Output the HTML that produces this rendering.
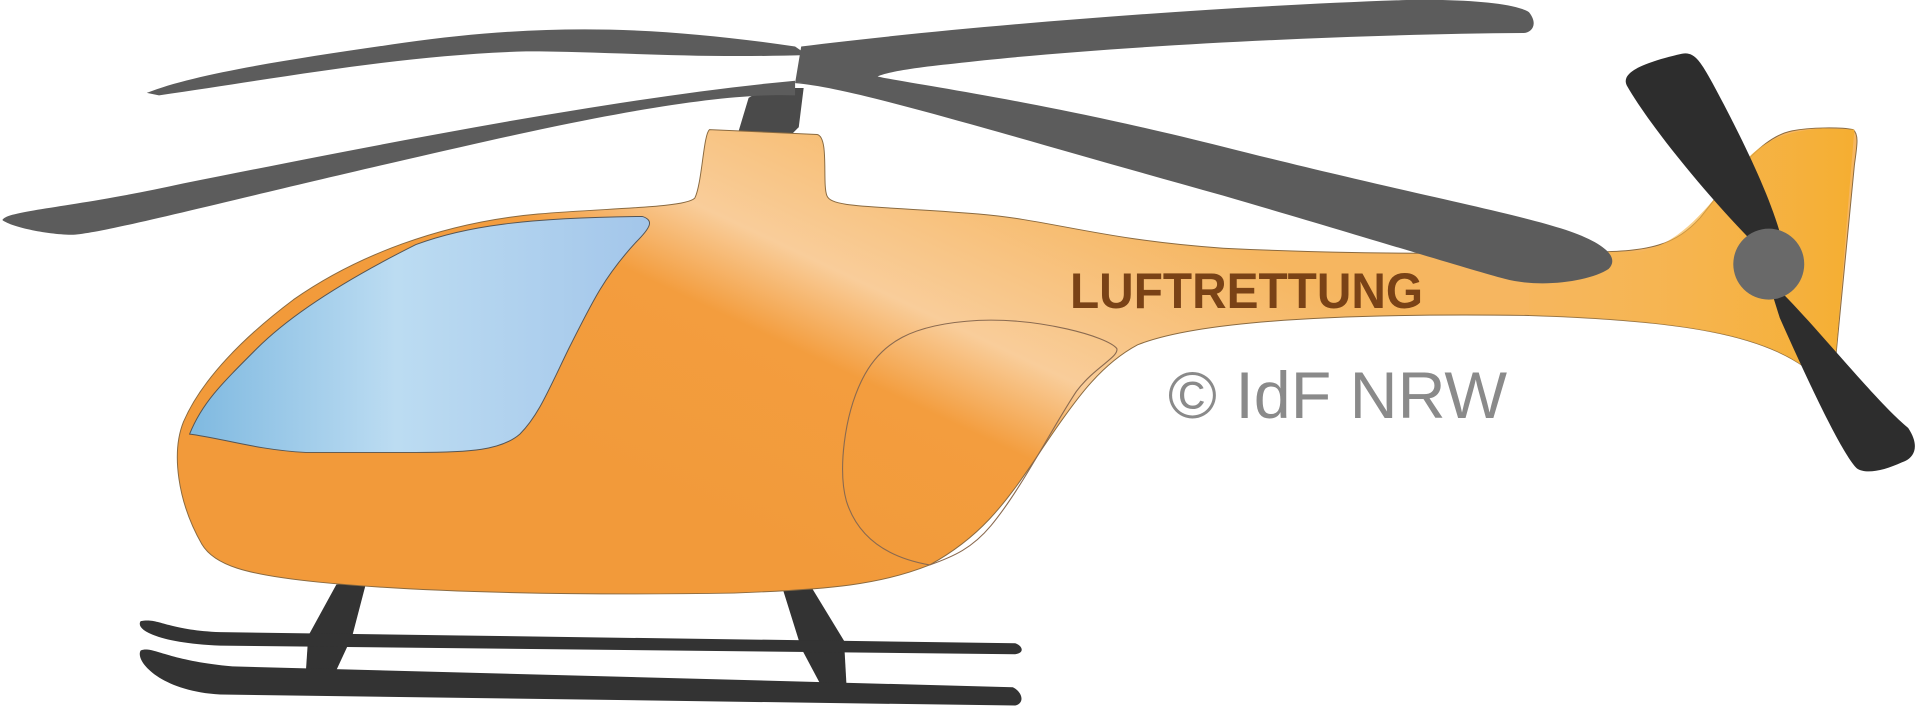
<!DOCTYPE html>
<html><head><meta charset="utf-8"><style>
html,body{margin:0;padding:0;background:#fff;width:1918px;height:708px;overflow:hidden;position:relative}
svg{display:block;position:absolute;left:0;top:0}
</style></head><body>
<svg width="1918" height="708" viewBox="0 0 1568 579" preserveAspectRatio="none" xmlns="http://www.w3.org/2000/svg">
<defs>
<linearGradient id="bg" gradientUnits="userSpaceOnUse" x1="650" y1="470" x2="820" y2="110">
<stop offset="0" stop-color="#f29a3a"/>
<stop offset="0.42" stop-color="#f39d3e"/>
<stop offset="0.6" stop-color="#f9cd9a"/>
<stop offset="1" stop-color="#f6b660"/>
</linearGradient>
<linearGradient id="tg" gradientUnits="userSpaceOnUse" x1="1150" y1="0" x2="1520" y2="0">
<stop offset="0" stop-color="#f6bb62" stop-opacity="0"/>
<stop offset="1" stop-color="#f5ae30"/>
</linearGradient>
<linearGradient id="wg" gradientUnits="userSpaceOnUse" x1="155" y1="0" x2="530" y2="0">
<stop offset="0" stop-color="#7fb9e0"/>
<stop offset="0.45" stop-color="#bcdcf2"/>
<stop offset="1" stop-color="#a3c6ea"/>
</linearGradient>
</defs>
<g fill="#333">
<path d="M252,520 L275,478 L300,474 L288,520 L275,548 L265,552 L250,550 Z"/>
<path d="M640,482 L662,478 L690,524 L692,560 L672,562 L655,530 Z"/>
<path d="M115,508 C130,505 135,515 180,517 L830,526 C836,528 838,534 830,535 L180,528 C130,526 110,515 115,508 Z"/>
<path d="M115,532 C125,528 135,540 190,545 L828,562 C836,566 838,575 830,577 L180,568 C130,565 110,540 115,532 Z"/>
</g>
<path d="M603,110 L612,80 L625,72 L657,72 L653,104 L645,112 Z" fill="#4a4a4a"/>
<path d="M165,445 C145,410 140,370 150,345 C165,310 200,275 240,245 C290,210 360,182 440,175 C500,170 560,170 568,162 C574,150 575,110 580,106 L668,110 C678,112 672,150 676,160 C680,170 710,168 800,175 C860,180 900,196 1000,203 C1100,208 1200,208 1300,206 C1350,206 1370,200 1390,178 C1420,140 1440,112 1465,107 C1480,104 1505,104 1515,106 C1520,110 1518,120 1516,135 L1500,300 L1475,300 C1440,275 1380,262 1250,258 C1100,256 980,262 930,282 C900,298 880,325 850,370 C820,415 800,440 760,462 C720,478 680,482 600,485 C480,487 350,485 260,476 C200,470 175,462 165,445 Z" fill="url(#bg)" stroke="#8a6a40" stroke-width="0.8"/>
<path d="M1340,206 C1370,200 1390,178 1420,140 C1440,112 1465,107 1490,105 L1516,106 L1500,300 L1475,300 C1440,275 1380,262 1250,258 L1250,206 Z" fill="url(#tg)"/>
<path d="M155,355 C165,330 180,315 210,285 C240,255 290,225 340,200 C380,185 430,178 525,177 C535,180 532,186 520,198 C495,225 485,245 465,285 C448,320 440,340 425,355 C410,368 385,370 340,370 L250,370 C210,368 180,358 155,355 Z" fill="url(#wg)" stroke="#555" stroke-width="0.8"/>
<path d="M760,462 C720,455 700,435 692,410 C685,385 690,340 705,310 C720,280 745,265 800,262 C850,260 905,275 913,285 C915,292 895,300 880,320 C860,350 835,400 810,430 C795,448 780,455 760,462 Z" fill="none" stroke="#8a6a50" stroke-width="0.9"/>
<g fill="#5c5c5c">
<path d="M650,66 C500,80 300,120 150,150 C60,170 5,172 2,180 C10,186 40,192 60,192 C90,190 200,160 400,115 C520,88 600,76 650,78 Z"/>
<path d="M120,76 C160,60 240,48 330,35 C450,18 540,22 650,38 L660,45 C560,48 500,42 430,42 C330,45 240,62 130,78 Z"/>
<path d="M655,38 C800,20 1000,5 1150,0 C1200,-1 1240,3 1250,10 C1258,20 1252,27 1245,27 C1100,28 900,38 780,52 C740,56 720,60 715,64 L650,68 Z"/>
<path d="M650,68 C700,72 820,110 1000,160 C1120,195 1200,220 1230,228 C1260,236 1300,230 1315,220 C1325,210 1310,198 1280,188 C1230,172 1150,158 1000,120 C850,82 740,68 715,62 Z"/>
</g>
<g fill="#2d2d2d">
<path d="M1330,70 C1325,60 1340,52 1375,44 C1385,42 1390,50 1400,68 C1420,105 1445,155 1455,190 L1435,200 C1400,165 1350,105 1330,70 Z"/>
<path d="M1445,228 C1480,260 1530,325 1560,350 C1570,365 1565,375 1555,378 C1540,385 1525,388 1518,383 C1505,370 1475,305 1455,260 Z"/>
</g>
<circle cx="1446" cy="216" r="29" fill="#696969"/>
</svg>
<svg width="1918" height="708" viewBox="0 0 1918 708" xmlns="http://www.w3.org/2000/svg">
<text x="1070" y="308" font-family="Liberation Sans, sans-serif" font-weight="bold" font-size="50" fill="#7a4216" textLength="353" lengthAdjust="spacingAndGlyphs">LUFTRETTUNG</text>
<text x="1168" y="418" font-family="Liberation Sans, sans-serif" font-size="66" fill="#8a8a8a" textLength="339" lengthAdjust="spacingAndGlyphs">© IdF NRW</text>
</svg>
</body></html>
